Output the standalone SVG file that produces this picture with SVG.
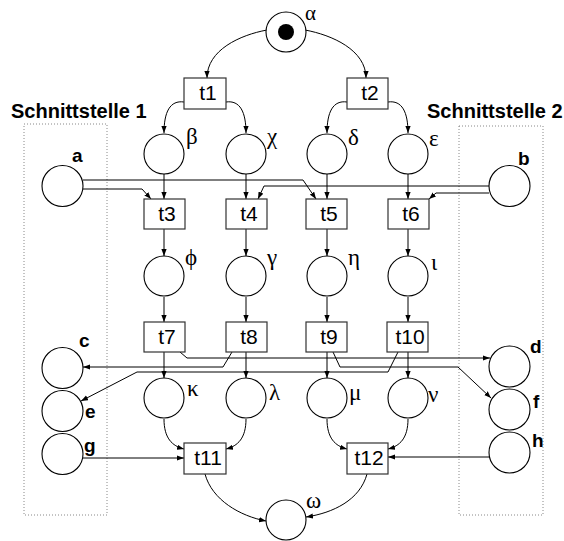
<svg xmlns="http://www.w3.org/2000/svg" width="564" height="541" viewBox="0 0 564 541">
  <defs>
    <marker id="arrow" markerUnits="userSpaceOnUse" markerWidth="8" markerHeight="6" refX="7" refY="3" orient="auto">
      <path d="M0,0.4 L7,3 L0,5.6 z" fill="#000"/>
    </marker>
    <style>
      .place { fill: #fff; stroke: #000; stroke-width: 1.1; }
      .trans { fill: #fff; stroke: #333; stroke-width: 1.2; }
      .arc { fill: none; stroke: #000; stroke-width: 1; marker-end: url(#arrow); }
      .iface { fill: none; stroke: #888; stroke-width: 1; stroke-dasharray: 1 2; }
      .tlabel { font-family: "Liberation Sans", Arial, sans-serif; font-size: 21px; text-anchor: middle; fill: #000; }
      .greek { font-family: "Liberation Serif", "DejaVu Serif", serif; font-size: 23px; fill: #000; }
      .ext { font-family: "Liberation Sans", Arial, sans-serif; font-size: 19px; font-weight: bold; fill: #000; }
      .title { font-family: "Liberation Sans", Arial, sans-serif; font-size: 20px; font-weight: bold; fill: #000; }
    </style>
  </defs>
  <rect width="564" height="541" fill="#fff"/>

  <!-- interface regions -->
  <g id="schnittstelle1">
    <rect class="iface" x="24" y="124" width="83" height="391"/>
    <text class="title" x="11" y="118">Schnittstelle 1</text>
  </g>
  <g id="schnittstelle2">
    <rect class="iface" x="459" y="126" width="84" height="389"/>
    <text class="title" x="427" y="118">Schnittstelle 2</text>
  </g>

  <!-- connectors -->
  <g id="connectors">
    <path class="arc" d="M267,30 C240,35 207,50 207,78"/>
    <path class="arc" d="M305,30 C332,35 366,50 366,78"/>
    <path class="arc" d="M184,102 C170,100 164,112 164,133"/>
    <path class="arc" d="M226,102 C240,100 246,112 246,133"/>
    <path class="arc" d="M347,102 C333,100 327,112 327,133"/>
    <path class="arc" d="M388,102 C402,100 408,112 408,133"/>

    <path class="arc" d="M164,174 L164,199"/>
    <path class="arc" d="M246,174 L246,199"/>
    <path class="arc" d="M327,174 L327,199"/>
    <path class="arc" d="M408,174 L408,199"/>

    <path class="arc" d="M83,180 L303,180 L316,199"/>
    <path class="arc" d="M83,189 L142,189 L151,199"/>
    <path class="arc" d="M489,186 L264,186 L258,199"/>
    <path class="arc" d="M489,193 L436,193 L429,199"/>

    <path class="arc" d="M164,229 L164,256"/>
    <path class="arc" d="M246,229 L246,256"/>
    <path class="arc" d="M327,229 L327,256"/>
    <path class="arc" d="M408,229 L408,256"/>

    <path class="arc" d="M164,297 L164,322"/>
    <path class="arc" d="M246,297 L246,322"/>
    <path class="arc" d="M327,297 L327,322"/>
    <path class="arc" d="M408,297 L408,322"/>

    <path class="arc" d="M164,352 L164,378"/>
    <path class="arc" d="M246,352 L246,378"/>
    <path class="arc" d="M327,352 L327,378"/>
    <path class="arc" d="M408,352 L408,378"/>

    <path class="arc" d="M180,352 L187,358 L490,358"/>
    <path class="arc" d="M232,352 L223,367 L83,367"/>
    <path class="arc" d="M333,352 L340,367 L458,367 L491,398"/>
    <path class="arc" d="M398,352 L388,372 L137,372 L81,401"/>

    <path class="arc" d="M164,419 C164,438 172,446 184,449"/>
    <path class="arc" d="M246,419 C246,438 238,446 226,449"/>
    <path class="arc" d="M327,419 C327,438 335,446 347,449"/>
    <path class="arc" d="M408,419 C408,438 400,446 388,449"/>
    <path class="arc" d="M83,458 L184,458"/>
    <path class="arc" d="M489,457 L388,457"/>

    <path class="arc" d="M205,474 C212,500 240,516 266,521"/>
    <path class="arc" d="M367,474 C360,500 333,513 306,517"/>
  </g>

  <!-- places -->
  <g id="p-alpha"><circle class="place" cx="286" cy="32" r="20"/><circle cx="286" cy="32" r="8" fill="#000"/><text class="greek" x="305" y="20" style="font-size:21px">α</text></g>
  <g id="p-beta"><circle class="place" cx="164" cy="154" r="20"/><text class="greek" x="186" y="144">β</text></g>
  <g id="p-chi"><circle class="place" cx="246" cy="154" r="20"/><text class="greek" x="267" y="144">χ</text></g>
  <g id="p-delta"><circle class="place" cx="327" cy="154" r="20"/><text class="greek" x="348" y="145">δ</text></g>
  <g id="p-epsilon"><circle class="place" cx="408" cy="154" r="20"/><text class="greek" x="429" y="146">ε</text></g>
  <g id="p-phi"><circle class="place" cx="164" cy="276" r="20"/><text class="greek" x="185" y="265">ϕ</text></g>
  <g id="p-gamma"><circle class="place" cx="246" cy="276" r="20"/><text class="greek" x="267" y="265">γ</text></g>
  <g id="p-eta"><circle class="place" cx="327" cy="276" r="20"/><text class="greek" x="348" y="265">η</text></g>
  <g id="p-iota"><circle class="place" cx="408" cy="276" r="20"/><text class="greek" x="431" y="270">ι</text></g>
  <g id="p-kappa"><circle class="place" cx="164" cy="398" r="20"/><text class="greek" x="187" y="396">κ</text></g>
  <g id="p-lambda"><circle class="place" cx="246" cy="398" r="20"/><text class="greek" x="269" y="400">λ</text></g>
  <g id="p-mu"><circle class="place" cx="327" cy="398" r="20"/><text class="greek" x="349" y="400">μ</text></g>
  <g id="p-nu"><circle class="place" cx="408" cy="398" r="20"/><text class="greek" x="428" y="402">ν</text></g>
  <g id="p-omega"><circle class="place" cx="286" cy="520" r="20"/><text class="greek" x="306" y="508">ω</text></g>

  <g id="p-a"><circle class="place" cx="62.5" cy="186" r="20.5"/><text class="ext" x="72" y="162">a</text></g>
  <g id="p-b"><circle class="place" cx="509.5" cy="186" r="20.5"/><text class="ext" x="518" y="165">b</text></g>
  <g id="p-c"><circle class="place" cx="62.5" cy="368" r="20.5"/><text class="ext" x="79" y="347">c</text></g>
  <g id="p-e"><circle class="place" cx="62.5" cy="411" r="20.5"/><text class="ext" x="85" y="418">e</text></g>
  <g id="p-g"><circle class="place" cx="62.5" cy="454" r="20.5"/><text class="ext" x="84" y="452">g</text></g>
  <g id="p-d"><circle class="place" cx="509.5" cy="366.5" r="20.5"/><text class="ext" x="530" y="353">d</text></g>
  <g id="p-f"><circle class="place" cx="509.5" cy="409.5" r="20.5"/><text class="ext" x="533" y="408">f</text></g>
  <g id="p-h"><circle class="place" cx="509.5" cy="452.5" r="20.5"/><text class="ext" x="532" y="447">h</text></g>

  <!-- transitions -->
  <g id="t1"><rect class="trans" x="184" y="78" width="42" height="31"/><text class="tlabel" x="208" y="100">t1</text></g>
  <g id="t2"><rect class="trans" x="347" y="78" width="41" height="31"/><text class="tlabel" x="370" y="100">t2</text></g>
  <g id="t3"><rect class="trans" x="144" y="199" width="41" height="30"/><text class="tlabel" x="167" y="221">t3</text></g>
  <g id="t4"><rect class="trans" x="226" y="199" width="41" height="30"/><text class="tlabel" x="249" y="221">t4</text></g>
  <g id="t5"><rect class="trans" x="306" y="199" width="41" height="30"/><text class="tlabel" x="329" y="221">t5</text></g>
  <g id="t6"><rect class="trans" x="388" y="199" width="41" height="30"/><text class="tlabel" x="411" y="221">t6</text></g>
  <g id="t7"><rect class="trans" x="144" y="322" width="41" height="30"/><text class="tlabel" x="167" y="344">t7</text></g>
  <g id="t8"><rect class="trans" x="226" y="322" width="41" height="30"/><text class="tlabel" x="249" y="344">t8</text></g>
  <g id="t9"><rect class="trans" x="306" y="322" width="41" height="30"/><text class="tlabel" x="329" y="344">t9</text></g>
  <g id="t10"><rect class="trans" x="387" y="322" width="41" height="30"/><text class="tlabel" x="410" y="344">t10</text></g>
  <g id="t11"><rect class="trans" x="184" y="443" width="42" height="31"/><text class="tlabel" x="208" y="465">t11</text></g>
  <g id="t12"><rect class="trans" x="347" y="443" width="41" height="31"/><text class="tlabel" x="369" y="465">t12</text></g>
</svg>
